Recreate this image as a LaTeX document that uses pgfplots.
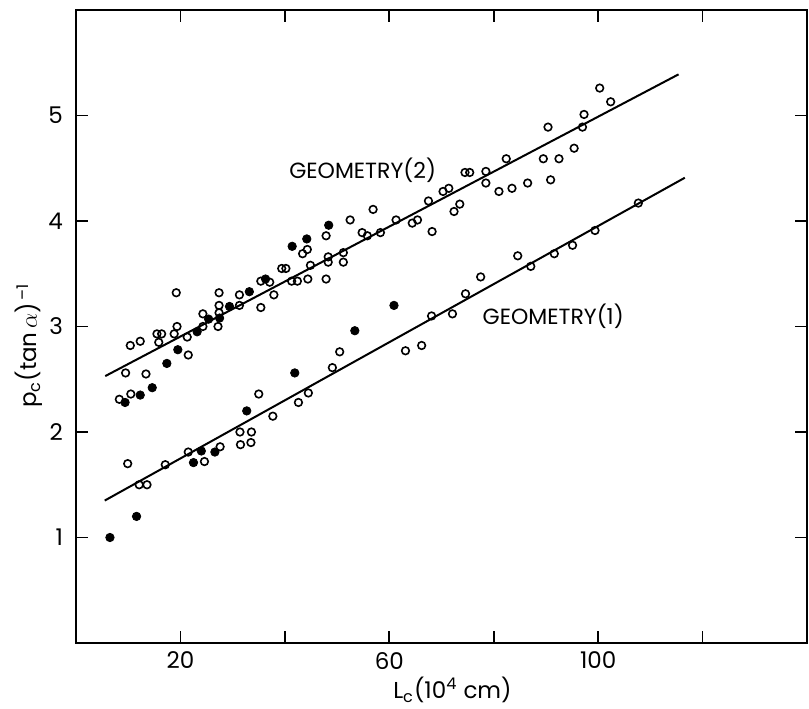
\documentclass[border=0pt]{standalone}
\usepackage{pgfplots}
\pgfplotsset{compat=1.18}
\usepackage{fontspec}
\setmainfont{Poppins}
\begin{document}
\begin{tikzpicture}
\begin{axis}[name=ax, scale only axis, width=365.5pt, height=316.5pt,
  xmin=0, xmax=140, ymin=0, ymax=6,
  xtick={20,40,60,80,100,120}, xticklabels={20,,60,,100,},
  ytick={1,2,3,4,5}, yticklabels={1,2,3,4,5},
  tick align=inside, major tick length=6pt,
  axis line style={line width=1pt},
  every tick/.style={line width=0.9pt, black},
  /pgf/number format/assume math mode=true,
  ticklabel style={font=\fontsize{11.5}{13}\selectfont},
  yticklabel style={xshift=-3pt},
  xticklabel style={yshift=-1pt},
  label style={font=\fontsize{11.5}{13}\selectfont},
  xlabel={L\textsubscript{c}(10\textsuperscript{4} cm)},
  ylabel={p\textsubscript{c}(tan\,$\alpha$)\textsuperscript{\,\textendash1}},
  xlabel style={at={(axis description cs:0.515,-0.074)}, anchor=center},
  ylabel style={at={(axis description cs:-0.064,0.47)}, anchor=center},
  clip=false,
]
% Geometry (2) open circles
\addplot[only marks, mark=o, mark size=1.9pt, mark options={line width=0.8pt, black}] coordinates {
(8.3,2.31) (9.5,2.56) (10.5,2.36) (13.4,2.55) (10.4,2.82) (12.3,2.86)
(15.5,2.93) (16.4,2.93) (15.85,2.85) (18.8,2.93) (19.35,3.00) (21.3,2.90)
(21.5,2.73) (19.2,3.32) (24.3,3.00) (24.3,3.12) (27.4,3.32) (27.4,3.20)
(27.4,3.13) (27.2,3.00) (31.3,3.30) (31.3,3.20) (35.4,3.18) (35.4,3.43)
(37.1,3.42) (37.9,3.30) (39.4,3.55) (40.2,3.55) (41.3,3.43) (42.4,3.43)
(43.4,3.69) (44.3,3.73) (44.9,3.58) (44.4,3.45) (47.9,3.86) (48.3,3.66)
(48.3,3.61) (47.9,3.45) (51.2,3.70) (51.2,3.61) (52.5,4.01) (54.8,3.89)
(55.8,3.86) (56.9,4.11) (58.3,3.89) (61.3,4.01) (64.4,3.98) (65.4,4.01)
(68.2,3.90) (67.5,4.19) (70.3,4.28) (71.4,4.31) (72.4,4.09) (73.5,4.16)
(74.5,4.46) (75.4,4.46) (78.5,4.47) (78.5,4.36) (81.0,4.28) (83.5,4.31)
(82.4,4.59) (86.5,4.36) (89.5,4.59) (92.5,4.59) (90.9,4.39) (90.4,4.89)
(95.4,4.69) (97.0,4.89) (97.3,5.01) (100.3,5.26) (102.4,5.13)
};
% Geometry (1) open circles
\addplot[only marks, mark=o, mark size=1.9pt, mark options={line width=0.8pt, black}] coordinates {
(9.9,1.70) (12.1,1.50) (13.6,1.50) (17.1,1.69) (21.5,1.81) (24.6,1.72)
(27.6,1.86) (31.4,2.00) (33.6,2.00) (31.5,1.88) (33.5,1.90) (35.0,2.36)
(37.7,2.15) (42.6,2.28) (44.5,2.37) (49.1,2.61) (50.5,2.76) (63.1,2.77)
(66.2,2.82) (68.1,3.10) (72.1,3.12) (74.6,3.31) (77.5,3.47) (84.6,3.67)
(87.1,3.57) (91.6,3.69) (95.1,3.77) (99.4,3.91) (107.7,4.17)
};
% filled circles
\addplot[only marks, mark=*, mark size=2.1pt, mark options={black, fill=black}] coordinates {
(9.4,2.28) (12.3,2.35) (14.6,2.42) (17.4,2.65) (19.5,2.78) (23.2,2.95)
(25.4,3.07) (27.5,3.08) (29.4,3.19) (33.2,3.33) (36.3,3.45) (41.4,3.76)
(44.2,3.83) (48.4,3.96)
};
\addplot[only marks, mark=*, mark size=2.1pt, mark options={black, fill=black}] coordinates {
(6.5,1.00) (11.6,1.20) (22.5,1.71) (24.0,1.82) (26.6,1.81) (32.7,2.20)
(41.9,2.56) (53.4,2.96) (60.9,3.20)
};
% fitted lines
\addplot[black, line width=1pt, no marks] coordinates {(5.6,2.53) (115.4,5.39)};
\addplot[black, line width=1pt, no marks] coordinates {(5.5,1.35) (116.6,4.41)};
\node[font=\fontsize{11}{13}\selectfont] at (axis cs:54.9,4.48) {GEOMETRY(2)};
\node[font=\fontsize{11}{13}\selectfont] at (axis cs:91.4,3.10) {GEOMETRY(1)};
\end{axis}
\pgfresetboundingbox
\path ([xshift=-38pt,yshift=-32.5pt]ax.south west) rectangle ([xshift=1pt,yshift=5pt]ax.north east);
\end{tikzpicture}
\end{document}
